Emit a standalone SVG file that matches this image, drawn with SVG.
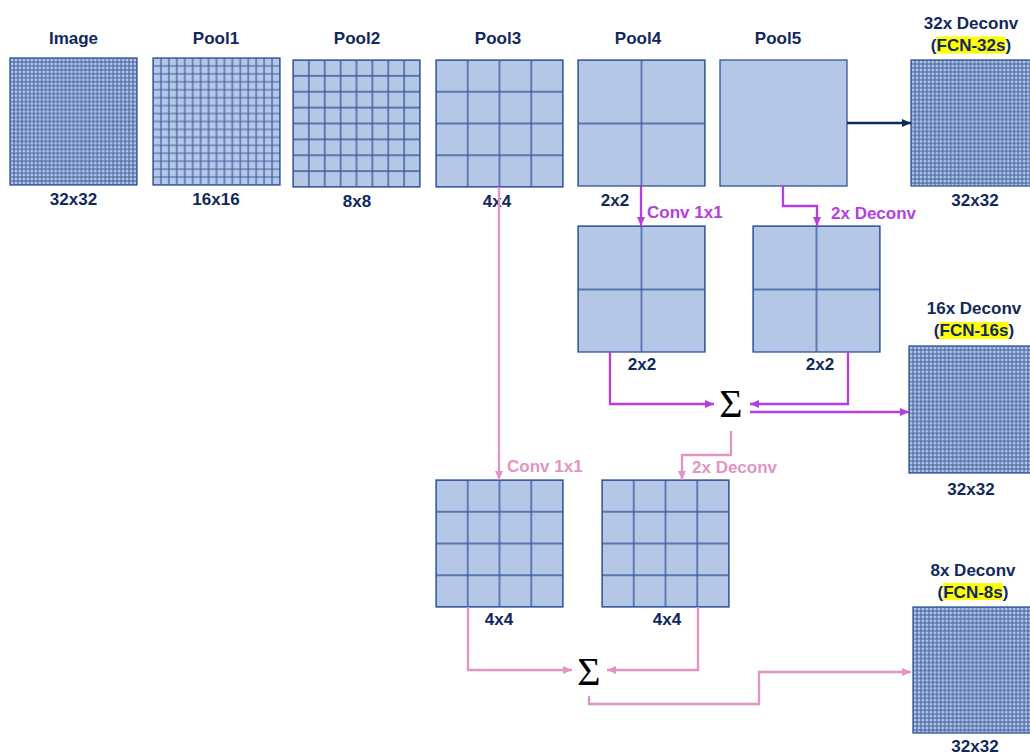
<svg xmlns="http://www.w3.org/2000/svg" width="1030" height="755" viewBox="0 0 1030 755">
<style>
.t{font-family:"Liberation Sans",Arial,sans-serif;font-weight:bold;font-size:17px;fill:#10285e;text-anchor:middle}
.tp{font-family:"Liberation Sans",Arial,sans-serif;font-weight:bold;font-size:17px;fill:#b53ee0}
.tk{font-family:"Liberation Sans",Arial,sans-serif;font-weight:bold;font-size:17px;fill:#e294c4}
.sig{font-family:"Liberation Serif","Times New Roman",serif;font-size:40px;fill:#000;text-anchor:middle}
.bd{fill:none;stroke:#2f5597;stroke-width:1.3}
.hl{fill:#ffff00}
.cp{fill:none;stroke:#b53ee0;stroke-width:2.3}
.ck{fill:none;stroke:#e294c4;stroke-width:2.3}
.cn{fill:none;stroke:#10285e;stroke-width:2.5}
</style>
<defs>
<pattern id="p32" width="3.96875" height="3.96875" patternUnits="userSpaceOnUse"><rect width="3.96875" height="3.96875" fill="#b4c7e7"/><path d="M0 0V3.96875M3.96875 0V3.96875M0 0H3.96875M0 3.96875H3.96875" stroke="#3a5b9b" stroke-width="1"/></pattern>
<pattern id="p16" width="7.9375" height="7.9375" patternUnits="userSpaceOnUse"><rect width="7.9375" height="7.9375" fill="#b4c7e7"/><path d="M0 0V7.9375M7.9375 0V7.9375M0 0H7.9375M0 7.9375H7.9375" stroke="#3a5b9b" stroke-width="1.2"/></pattern>
<pattern id="p8" width="15.875" height="15.875" patternUnits="userSpaceOnUse"><rect width="15.875" height="15.875" fill="#b4c7e7"/><path d="M0 0V15.875M15.875 0V15.875M0 0H15.875M0 15.875H15.875" stroke="#3a5b9b" stroke-width="1.4"/></pattern>
<pattern id="p4" width="31.75" height="31.75" patternUnits="userSpaceOnUse"><rect width="31.75" height="31.75" fill="#b4c7e7"/><path d="M0 0V31.75M31.75 0V31.75M0 0H31.75M0 31.75H31.75" stroke="#3a5b9b" stroke-width="1.4"/></pattern>
<pattern id="p2" width="63.5" height="63.5" patternUnits="userSpaceOnUse"><rect width="63.5" height="63.5" fill="#b4c7e7"/><path d="M0 0V63.5M63.5 0V63.5M0 0H63.5M0 63.5H63.5" stroke="#3a5b9b" stroke-width="1.4"/></pattern>
<marker id="aN" markerUnits="userSpaceOnUse" markerWidth="10" markerHeight="10" refX="9" refY="5" orient="auto"><path d="M0 1L9 5L0 9Z" fill="#10285e"/></marker>
<marker id="aP" markerUnits="userSpaceOnUse" markerWidth="10" markerHeight="10" refX="9" refY="5" orient="auto"><path d="M0 1L9 5L0 9Z" fill="#b53ee0"/></marker>
<marker id="aK" markerUnits="userSpaceOnUse" markerWidth="10" markerHeight="10" refX="9" refY="5" orient="auto"><path d="M0 1L9 5L0 9Z" fill="#e294c4"/></marker>
</defs>

<g id="image">
<g transform="translate(10,58)"><rect width="127" height="127" fill="url(#p32)"/><rect width="127" height="127" class="bd"/></g>
<text class="t" x="73.5" y="44">Image</text>
<text class="t" x="73.5" y="205">32x32</text>
</g>
<g id="pool1">
<g transform="translate(153,58)"><rect width="127" height="127" fill="url(#p16)"/><rect width="127" height="127" class="bd"/></g>
<text class="t" x="216" y="44">Pool1</text>
<text class="t" x="216" y="205">16x16</text>
</g>
<g id="pool2">
<g transform="translate(293,60)"><rect width="127" height="127" fill="url(#p8)"/><rect width="127" height="127" class="bd"/></g>
<text class="t" x="357" y="44">Pool2</text>
<text class="t" x="357" y="207">8x8</text>
</g>
<g id="pool3">
<g transform="translate(436,60)"><rect width="127" height="127" fill="url(#p4)"/><rect width="127" height="127" class="bd"/></g>
<text class="t" x="498" y="44">Pool3</text>
<text class="t" x="497" y="207">4x4</text>
</g>
<g id="pool4">
<g transform="translate(578,60)"><rect width="127" height="126" fill="url(#p2)"/><rect width="127" height="126" class="bd"/></g>
<text class="t" x="638" y="44">Pool4</text>
<text class="t" x="615" y="206">2x2</text>
</g>
<g id="pool5">
<rect x="720" y="60" width="127" height="126" class="bd" style="fill:#b4c7e7"/>
<text class="t" x="778" y="44">Pool5</text>
</g>
<g id="fcn32">
<rect class="hl" x="936.5" y="36.5" width="69" height="17"/>
<text class="t" x="971" y="29">32x Deconv</text>
<text class="t" x="971" y="51">(FCN-32s)</text>
<g transform="translate(911,60)"><rect width="127" height="126" fill="url(#p32)"/><rect width="127" height="126" class="bd"/></g>
<text class="t" x="975" y="206">32x32</text>
</g>
<g id="conv4">
<g transform="translate(578,226)"><rect width="127" height="126" fill="url(#p2)"/><rect width="127" height="126" class="bd"/></g>
<text class="t" x="642" y="370">2x2</text>
</g>
<g id="deconv5">
<g transform="translate(753,226)"><rect width="127" height="126" fill="url(#p2)"/><rect width="127" height="126" class="bd"/></g>
<text class="t" x="820" y="370">2x2</text>
</g>
<g id="sum1"><text class="sig" x="731" y="417">Σ</text></g>
<g id="fcn16">
<rect class="hl" x="939.5" y="322" width="69" height="17"/>
<text class="t" x="974" y="314">16x Deconv</text>
<text class="t" x="974" y="336">(FCN-16s)</text>
<g transform="translate(909,346)"><rect width="127" height="127" fill="url(#p32)"/><rect width="127" height="127" class="bd"/></g>
<text class="t" x="971" y="495">32x32</text>
</g>
<g id="conv3">
<g transform="translate(436,480)"><rect width="127" height="127" fill="url(#p4)"/><rect width="127" height="127" class="bd"/></g>
<text class="t" x="499" y="625">4x4</text>
</g>
<g id="deconv16">
<g transform="translate(602,480)"><rect width="127" height="127" fill="url(#p4)"/><rect width="127" height="127" class="bd"/></g>
<text class="t" x="667" y="625">4x4</text>
</g>
<g id="sum2"><text class="sig" x="589" y="685">Σ</text></g>
<g id="fcn8">
<rect class="hl" x="943" y="583" width="59.5" height="17"/>
<text class="t" x="973" y="576">8x Deconv</text>
<text class="t" x="973" y="598">(FCN-8s)</text>
<g transform="translate(913,607)"><rect width="127" height="126" fill="url(#p32)"/><rect width="127" height="126" class="bd"/></g>
<text class="t" x="975" y="752">32x32</text>
</g>

<g id="connectors">
<path class="cn" d="M847 123H911" marker-end="url(#aN)"/>
<path class="cp" d="M641 186V226" marker-end="url(#aP)"/>
<path class="cp" d="M783 186V206H817V226" marker-end="url(#aP)"/>
<path class="cp" d="M610 352V404H714" marker-end="url(#aP)"/>
<path class="cp" d="M848 352V404H750" marker-end="url(#aP)"/>
<path class="cp" d="M750 412H909" marker-end="url(#aP)"/>
<path class="ck" d="M499 187V480" marker-end="url(#aK)"/>
<path class="ck" d="M731 431V455H682V480" marker-end="url(#aK)"/>
<path class="ck" d="M468 607V670H572" marker-end="url(#aK)"/>
<path class="ck" d="M698 607V670H607" marker-end="url(#aK)"/>
<path class="ck" d="M589 696V704H759V672H911" marker-end="url(#aK)"/>
<text class="tp" x="647" y="218">Conv 1x1</text>
<text class="tp" x="831" y="219">2x Deconv</text>
<text class="tk" x="507" y="472">Conv 1x1</text>
<text class="tk" x="692" y="473">2x Deconv</text>
</g>
</svg>
